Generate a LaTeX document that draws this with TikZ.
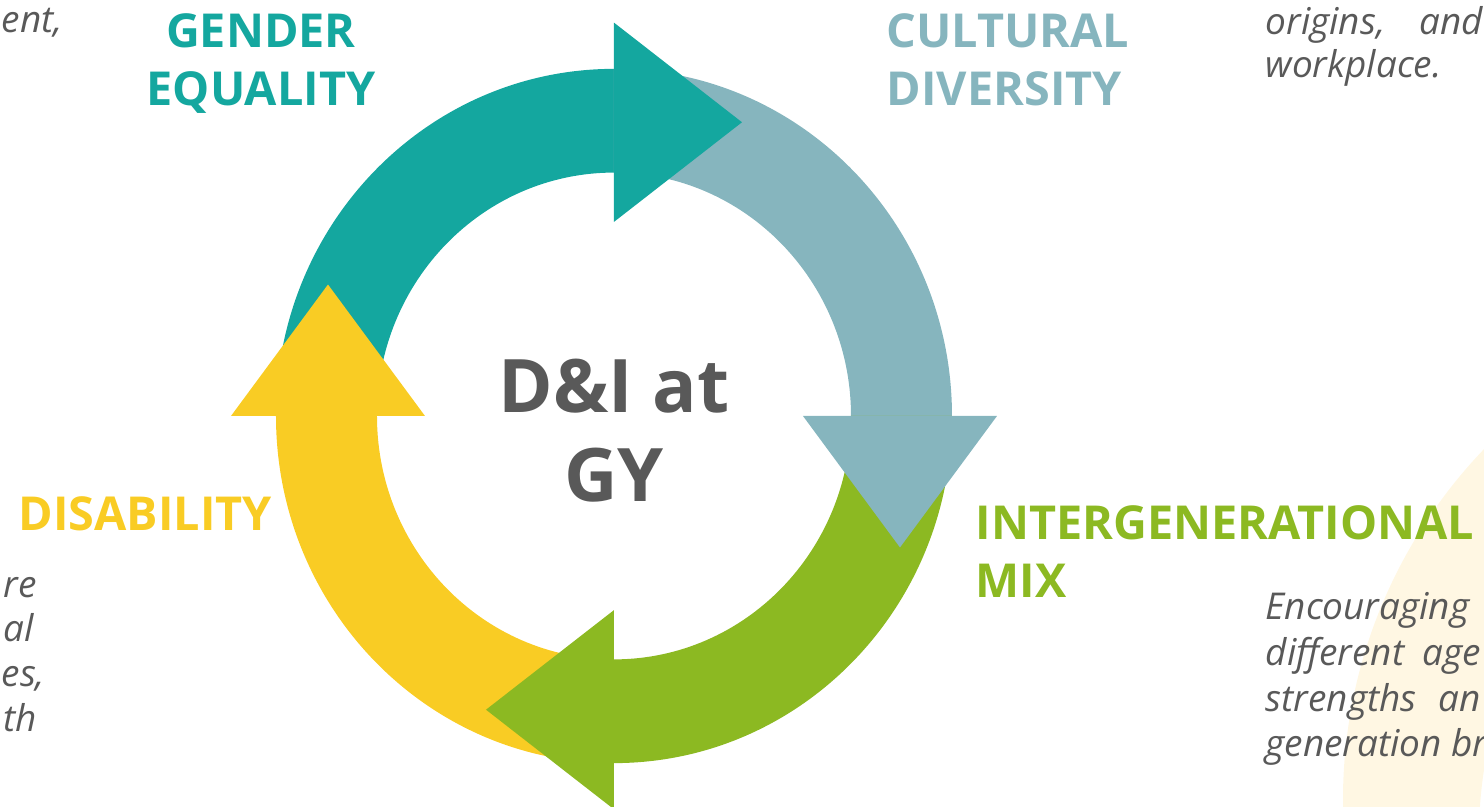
\documentclass[tikz,border=0pt]{standalone}
\usepackage{fontspec}
\setmainfont{Open Sans}
\definecolor{gendercol}{HTML}{14A79F}
\definecolor{culturecol}{HTML}{86B5BE}
\definecolor{mixcol}{HTML}{8CB922}
\definecolor{disabcol}{HTML}{F9CC24}
\definecolor{textgrey}{HTML}{595959}
\definecolor{creamcol}{HTML}{FFF7E3}
\tikzset{
  heading/.style={font=\fontsize{13.3}{16}\selectfont\bfseries, inner sep=0pt},
  blurb/.style={font=\fontsize{10.5}{13}\selectfont\itshape, text=textgrey, inner sep=0pt},
  title/.style={font=\fontsize{21}{25}\selectfont\bfseries, text=textgrey, inner sep=0pt},
}
\begin{document}
\begin{tikzpicture}[x=0.01cm,y=0.01cm]
\useasboundingbox (-614,-391) rectangle (870,416);
\fill[creamcol,even odd rule] (1236,-384) circle[radius=507] (1286,-419) circle[radius=421];
\begin{scope}[yscale=1.027]
% ring bodies
\fill[gendercol] (180:338) arc[start angle=180,end angle=90,radius=338] -- (90:237) arc[start angle=90,end angle=180,radius=237] -- cycle;
\fill[culturecol] (90:338) arc[start angle=90,end angle=0,radius=338] -- (0:237) arc[start angle=0,end angle=90,radius=237] -- cycle;
\fill[mixcol] (0:338) arc[start angle=0,end angle=-90,radius=338] -- (-90:237) arc[start angle=-90,end angle=0,radius=237] -- cycle;
\fill[disabcol] (-90:338) arc[start angle=-90,end angle=-180,radius=338] -- (-180:237) arc[start angle=-180,end angle=-90,radius=237] -- cycle;
% heads
\fill[gendercol] (0,189) -- (0,383) -- (128,286) -- cycle;
\fill[culturecol] (383,0) -- (189,0) -- (286,-128) -- cycle;
\fill[mixcol] (0,-383) -- (0,-189) -- (-128,-286) -- cycle;
\fill[disabcol] (-189,0) -- (-383,0) -- (-286,128) -- cycle;
\end{scope}
\node[title,anchor=base] (title1) at (0,3) {D\&I at};
\node[title,anchor=base] (title2) at (0,-86) {GY};
\node[heading,text=gendercol,anchor=base] (gender1) at (-353,368) {GENDER};
\node[heading,text=gendercol,anchor=base] (gender2) at (-353,310) {EQUALITY};
\node[heading,text=culturecol,anchor=base west] (culture1) at (272,368) {CULTURAL};
\node[heading,text=culturecol,anchor=base west] (culture2) at (272,310) {DIVERSITY};
\node[heading,text=mixcol,anchor=base west] (mix1) at (361,-124) {INTERGENERATIONAL};
\node[heading,text=mixcol,anchor=base west] (mix2) at (361,-182) {MIX};
\node[heading,text=disabcol,anchor=base west] (disab) at (-596,-115) {DISABILITY};
% cut-off blurbs
\node[blurb,anchor=base west] (gtext) at (-613,383) {ent,};
\node[blurb,anchor=base west] (ctext1) at (651,381) {\makebox[2.17cm][s]{origins, and}};
\node[blurb,anchor=base west] (ctext2) at (651,338) {workplace.};
\node[blurb,anchor=base west] (dtext1) at (-611,-182) {re};
\node[blurb,anchor=base west] (dtext2) at (-611,-226) {al};
\node[blurb,anchor=base west] (dtext3) at (-613,-271) {es,};
\node[blurb,anchor=base west] (dtext4) at (-611,-316) {th};
\node[blurb,anchor=base west] (mtext1) at (651,-204) {Encouraging};
\node[blurb,anchor=base west] (mtext2) at (651,-250) {\makebox[2.15cm][s]{different age}};
\node[blurb,anchor=base west] (mtext3) at (651,-296) {\makebox[2.15cm][s]{strengths an}};
\node[blurb,anchor=base west] (mtext4) at (651,-341) {generation br};
\end{tikzpicture}
\end{document}
